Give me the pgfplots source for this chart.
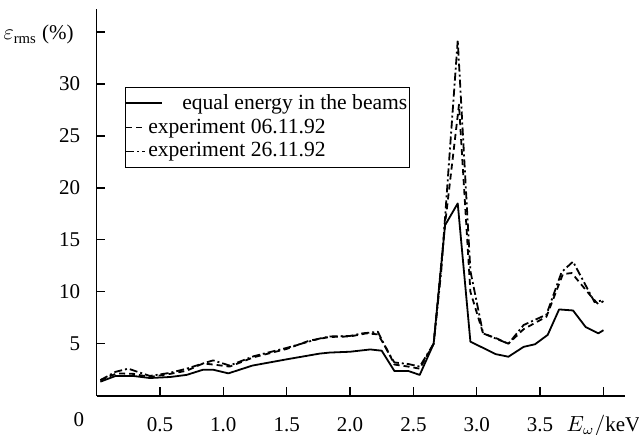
\documentclass[border=0pt]{standalone}
\usepackage{fontspec}
\setmainfont{Liberation Serif}
\usepackage{pgfplots}
\pgfplotsset{compat=1.18}

\pgfplotstableread{
x y
0.03 1.35
0.15 1.9
0.29 1.9
0.42 1.7
0.58 1.8
0.71 2.0
0.84 2.5
0.92 2.5
1.04 2.15
1.23 2.9
1.50 3.5
1.76 4.05
1.84 4.15
2.00 4.23
2.16 4.45
2.25 4.33
2.35 2.38
2.46 2.38
2.55 2.0
2.66 5.0
2.75 16.4
2.85 18.5
2.95 5.2
3.15 4.0
3.25 3.75
3.37 4.7
3.46 4.95
3.56 5.85
3.65 8.3
3.76 8.2
3.86 6.6
3.96 6.0
4.00 6.3
}\equal

\pgfplotstableread{
x y
0.03 1.5
0.16 2.15
0.29 2.1
0.42 1.8
0.58 2.1
0.71 2.4
0.84 3.1
0.92 3.0
1.05 2.8
1.24 3.7
1.50 4.5
1.68 5.3
1.84 5.65
2.00 5.7
2.13 6.0
2.22 5.9
2.29 4.5
2.35 3.0
2.46 2.8
2.55 2.6
2.66 5.0
2.75 16.5
2.86 28.0
2.95 10.0
3.05 6.0
3.16 5.5
3.25 5.0
3.37 6.4
3.55 7.6
3.68 11.7
3.75 11.8
3.92 9.3
3.96 8.8
4.00 9.1
}\expA

\pgfplotstableread{
x y
0.03 1.5
0.15 2.3
0.25 2.6
0.42 1.9
0.58 2.2
0.71 2.6
0.84 3.1
0.92 3.4
1.05 2.9
1.24 3.8
1.50 4.6
1.76 5.5
1.84 5.7
2.00 5.75
2.10 6.0
2.22 6.15
2.29 4.4
2.35 3.2
2.46 3.05
2.55 2.8
2.66 5.0
2.72 12.0
2.85 34.2
2.95 12.0
3.05 6.0
3.17 5.4
3.25 5.0
3.37 6.8
3.55 7.8
3.67 11.9
3.76 12.9
3.93 9.0
4.00 9.2
}\expB

\begin{document}
\fontsize{10.5pt}{12.6pt}\selectfont
\begin{tikzpicture}
\begin{axis}[
  scale only axis, width=264.2pt, height=193.35pt,
  xmin=0, xmax=4.17, ymin=0, ymax=37.2,
  axis x line=bottom, axis y line=left,
  axis line style={-, line width=0.9pt},
  xtick={0.5,1,1.5,2,2.5,3,3.5,4},
  xticklabels={0.5,1.0,1.5,2.0,2.5,3.0,3.5,{\raisebox{0pt}[7.1pt][0pt]{$E_\omega/\mathrm{keV}$}}},
  ytick={5,10,15,20,25,30,35},
  yticklabels={5,10,15,20,25,30,{}},
  tick align=inside, major tick length=4.25pt,
  tick style={line width=0.7pt, black},
  /pgf/number format/assume math mode=true,
  x tick label style={yshift=-7.1pt},
  y tick label style={xshift=-4.5pt},
  legend style={at={(axis description cs:0.0537,0.799)}, anchor=north west,
    draw=black, line width=0.5pt, inner xsep=0pt, inner ysep=2.5pt,
    nodes={inner sep=1pt}, row sep=1.2pt, font=\fontsize{10.8pt}{12.8pt}\selectfont},
  legend cell align=left,
  legend image code/.code={\draw[#1] (0pt,0pt) -- (9.5pt,0pt);},
  clip=false,
]
\addplot[black, line width=0.9pt, line join=round,
  legend image code/.code={\draw[##1, overlay] (4pt,0pt) -- (18pt,0pt); \path (0pt,0pt) -- (9.5pt,0pt);}]
  table[x=x,y=y] {\equal};
\addlegendentry{\hspace{17pt}equal energy in the beams\hspace{10.5pt}}
\addplot[black, line width=0.9pt, line join=round, dash pattern=on 3pt off 2pt] table[x=x,y=y] {\expA};
\addlegendentry{experiment 06.11.92}
\addplot[black, line width=0.9pt, line join=round, dash pattern=on 4pt off 1.5pt on 1pt off 1.5pt] table[x=x,y=y] {\expB};
\addlegendentry{experiment 26.11.92}
\node at (axis description cs:-0.0333,-0.0628) {0};
\node[anchor=base east] at (axis description cs:-0.0295,0.9199) {$\varepsilon_{\mathrm{rms}}$ (\%)};
\coordinate (bl) at (axis description cs:-0.1828,-0.1015);
\coordinate (tr) at (axis description cs:1.0265,1.0233);
\end{axis}
\pgfresetboundingbox
\path (bl) rectangle (tr);
\end{tikzpicture}
\end{document}
